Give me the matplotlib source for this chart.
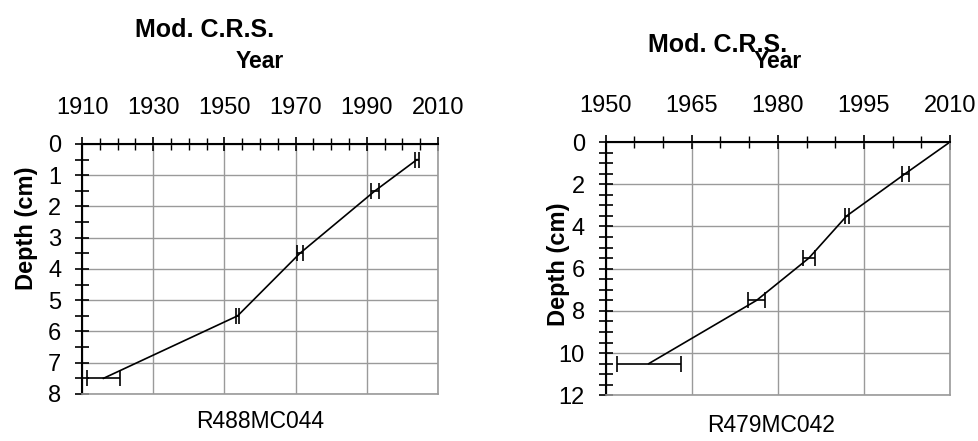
import matplotlib
matplotlib.use("Agg")
import matplotlib.pyplot as plt
from matplotlib.ticker import MultipleLocator

plt.rcParams["font.family"] = ["Liberation Sans", "DejaVu Sans"]

# R488MC044
left_year = [2004.1, 1992.3, 1971.2, 1953.7, 1916.0]
left_err = [0.6, 1.1, 0.75, 0.45, 4.7]
left_depth = [0.5, 1.5, 3.5, 5.5, 7.5]
left_xticks = [1910, 1930, 1950, 1970, 1990, 2010]

# R479MC042
right_year = [2010.0, 2002.2, 1992.0, 1985.4, 1976.3, 1957.5]
right_err = [0.0, 0.6, 0.35, 1.05, 1.45, 5.6]
right_depth = [0.0, 1.5, 3.5, 5.5, 7.5, 10.5]
right_xticks = [1950, 1965, 1980, 1995, 2010]

GRID = "#9a9a9a"
FS = 17


def style_axis(ax, xticks, ymax, ymajor):
    ax.set_xlim(xticks[0], xticks[-1])
    ax.set_ylim(ymax, 0)
    ax.set_xticks(xticks)
    ax.xaxis.set_minor_locator(MultipleLocator(5))
    ax.yaxis.set_major_locator(MultipleLocator(ymajor))
    ax.yaxis.set_minor_locator(MultipleLocator(0.5))
    ax.xaxis.tick_top()
    ax.tick_params(axis="x", which="major", direction="inout", length=10, width=1.2,
                   pad=13, labelsize=FS, top=True, bottom=False)
    ax.tick_params(axis="x", which="minor", direction="inout", length=8, width=1.0,
                   top=True, bottom=False)
    ax.tick_params(axis="y", which="both", direction="inout", length=10, width=1.2,
                   pad=10, labelsize=FS)
    ax.grid(True, which="major", color=GRID, lw=1.0)
    ax.set_axisbelow(True)
    ax.spines["top"].set_linewidth(1.5)
    ax.spines["left"].set_linewidth(1.5)
    ax.spines["right"].set_color(GRID)
    ax.spines["bottom"].set_color(GRID)
    ax.spines["right"].set_linewidth(1.2)
    ax.spines["bottom"].set_linewidth(1.2)


fig = plt.figure(figsize=(9.79, 4.41), dpi=100)
ax1 = fig.add_axes([0.0838, 0.1066, 0.3636, 0.567])
ax2 = fig.add_axes([0.6187, 0.1036, 0.3517, 0.5744])

ax1.errorbar(left_year, left_depth, xerr=left_err, color="black", lw=1.2,
             elinewidth=1.2, capsize=5.5, capthick=1.2)
style_axis(ax1, left_xticks, 8, 1)

ax2.errorbar(right_year, right_depth, xerr=right_err, color="black", lw=1.2,
             elinewidth=1.2, capsize=5.5, capthick=1.2)
style_axis(ax2, right_xticks, 12, 2)

ax1.set_ylabel("Depth (cm)", fontsize=FS, fontweight="bold")
ax1.yaxis.set_label_coords(-0.124, 0.664)
ax2.set_ylabel("Depth (cm)", fontsize=FS, fontweight="bold")
ax2.yaxis.set_label_coords(-0.104, 0.518)

fig.text(205 / 979, 1 - 30 / 441, "Mod. C.R.S.", fontsize=18, fontweight="bold",
         ha="center", va="center")
fig.text(260 / 979, 1 - 62 / 441, "Year", fontsize=16.5, fontweight="bold",
         ha="center", va="center")
fig.text(718 / 979, 1 - 45 / 441, "Mod. C.R.S.", fontsize=18, fontweight="bold",
         ha="center", va="center")
fig.text(778 / 979, 1 - 62 / 441, "Year", fontsize=16.5, fontweight="bold",
         ha="center", va="center")
fig.text(260 / 979, 1 - 422 / 441, "R488MC044", fontsize=16.5, ha="center", va="center")
fig.text(771 / 979, 1 - 425 / 441, "R479MC042", fontsize=16.5, ha="center", va="center")

fig.savefig("out.png", dpi=100)
